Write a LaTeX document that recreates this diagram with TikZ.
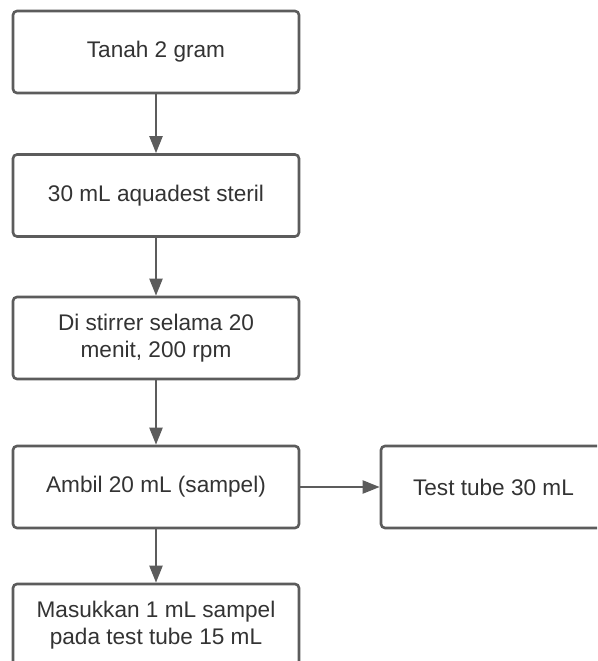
\documentclass[tikz,border=0pt]{standalone}
\usepackage{fontspec}
\setmainfont{Liberation Sans}
\usetikzlibrary{arrows.meta}
\definecolor{linegray}{HTML}{5C5C5C}
\definecolor{txtgray}{HTML}{333333}
\begin{document}
\begin{tikzpicture}[x=1pt,y=-1pt,
  box/.style={draw=linegray, line width=2.6pt, rounded corners=4pt, fill=white,
    minimum width=286pt, minimum height=82pt, inner sep=0pt,
    text=txtgray, align=center, font=\fontsize{22.6}{27.5}\selectfont},
  arr/.style={draw=linegray, line width=2pt, -{Triangle[length=17pt,width=13pt]}}]
\useasboundingbox (0,0) rectangle (597,661);
\begin{scope}
\clip (0,0) rectangle (597,661);
\node[box] (b1) at (156,52) {Tanah 2 gram};
\node[box] (b2) at (156,195.5) {30 mL aquadest steril};
\node[box] (b3) at (156,338) {Di stirrer selama 20\\menit, 200 rpm};
\node[box] (b4) at (156,487) {Ambil 20 mL (sampel)};
\node[box, minimum width=225pt] (b6) at (493.5,487) {Test tube 30 mL};
\node[box] (b5) at (156,625) {Masukkan 1 mL sampel\\pada test tube 15 mL};
\end{scope}
\draw[arr] (b1) -- (b2);
\draw[arr] (b2) -- (b3);
\draw[arr] (b3) -- (b4);
\draw[arr] (b4) -- (b5);
\draw[arr] (b4.east) -- (b6.west);
\end{tikzpicture}
\end{document}
